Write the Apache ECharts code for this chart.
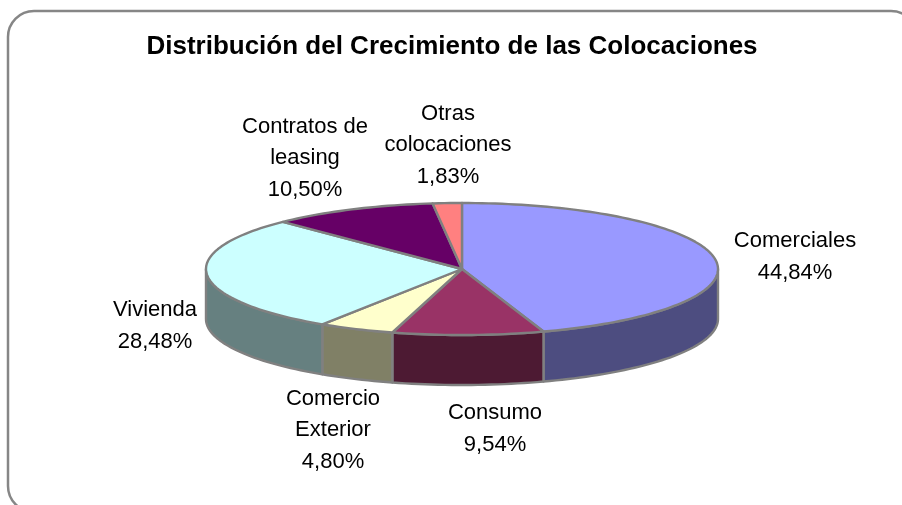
<!DOCTYPE html>
<html>
<head>
<meta charset="utf-8">
<style>html,body{margin:0;padding:0;background:#fff}#chart{width:902px;height:505px}</style>
<script src="https://cdn.jsdelivr.net/npm/echarts@6/dist/echarts.min.js"></script>
</head>
<body>
<div id="chart"></div>
<script>
const chartTitle = 'Distribución del Crecimiento de las Colocaciones';
const categories = ['Comerciales', 'Consumo', 'Comercio\nExterior', 'Vivienda', 'Contratos de\nleasing', 'Otras\ncolocaciones'];
const shares = [44.84, 9.54, 4.80, 28.48, 10.50, 1.83];
const topColors = ['#9999FF', '#993366', '#FFFFCC', '#CCFFFF', '#660066', '#FF8080'];
const sideColors = ['#4D4D80', '#4D1A33', '#808066', '#668080', '#330033', '#804040'];

// Tilted disc geometry
const disc = { cx: 462, cy: 269, rx: 256, ry: 66, depth: 50 };
// Centre of each slice caption
const captionAt = [[795, 257], [495, 429], [333, 430], [155, 326], [305, 158], [448, 145]];

const total = shares.reduce((a, b) => a + b, 0);
const rim = (deg, drop) => {
  const r = deg * Math.PI / 180;
  return [disc.cx + disc.rx * Math.sin(r), disc.cy - disc.ry * Math.cos(r) + (drop || 0)];
};
const arc = (from, to, drop) => {
  const pts = [];
  const n = Math.max(2, Math.ceil(Math.abs(to - from) / 1.5));
  for (let i = 0; i <= n; i++) pts.push(rim(from + (to - from) * i / n, drop));
  return pts;
};

function renderSlice(params, api) {
  const i = params.dataIndex;
  const before = shares.slice(0, i).reduce((a, b) => a + b, 0);
  const start = before / total * 360;
  const end = (before + api.value(0)) / total * 360;
  const edge = { stroke: '#808080', lineWidth: 2.4, lineJoin: 'round' };
  const children = [];

  // Wall below the rim: only the part facing the viewer (90° to 270°)
  const wallFrom = Math.max(start, 90);
  const wallTo = Math.min(end, 270);
  if (wallTo > wallFrom) {
    const pts = arc(wallFrom, wallTo, 0).concat(arc(wallTo, wallFrom, disc.depth));
    children.push({ type: 'polygon', shape: { points: pts }, style: Object.assign({ fill: sideColors[i] }, edge) });
  }
  // Top face
  children.push({
    type: 'polygon',
    shape: { points: [[disc.cx, disc.cy]].concat(arc(start, end, 0)) },
    style: Object.assign({ fill: topColors[i] }, edge)
  });
  // Caption
  children.push({
    type: 'text',
    style: {
      text: categories[i] + '\n' + api.value(0).toFixed(2).replace('.', ',') + '%',
      x: captionAt[i][0], y: captionAt[i][1],
      align: 'center', verticalAlign: 'middle',
      fontFamily: '"Liberation Sans", Arial, sans-serif', fontSize: 22, lineHeight: 31.5, fill: '#000'
    }
  });
  return { type: 'group', children };
}

const chart = echarts.init(document.getElementById('chart'), null, { renderer: 'canvas' });
chart.setOption({
  animation: false,
  backgroundColor: '#fff',
  title: {
    text: chartTitle, left: 447, top: 42, textAlign: 'center', textVerticalAlign: 'middle',
    textStyle: { fontFamily: '"Liberation Sans", Arial, sans-serif', fontSize: 26, fontWeight: 'bold', color: '#000' }
  },
  graphic: [{
    type: 'rect', z: -1, silent: true,
    shape: { x: 8, y: 11, width: 909, height: 501, r: 26 },
    style: { fill: '#fff', stroke: '#868686', lineWidth: 2.5 }
  }],
  series: [{
    type: 'custom', coordinateSystem: 'none', silent: true,
    data: shares.map(v => [v]),
    renderItem: renderSlice
  }]
});
</script>
</body>
</html>
